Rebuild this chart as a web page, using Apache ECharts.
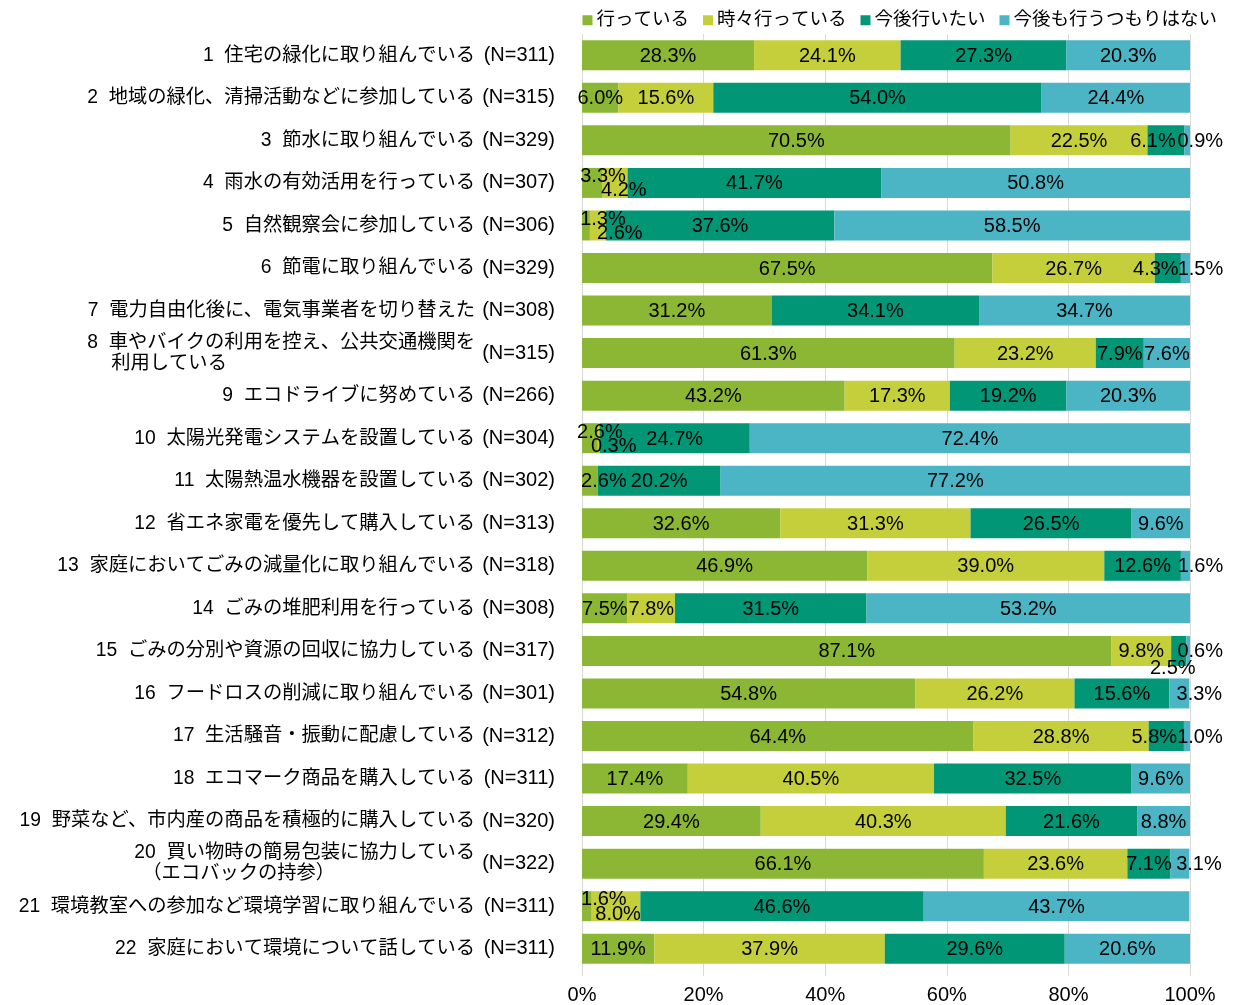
<!DOCTYPE html>
<html>
<head>
<meta charset="utf-8">
<script src="https://cdn.jsdelivr.net/npm/echarts@6/dist/echarts.min.js"></script>
<style>
  html, body { margin: 0; padding: 0; background: #fff; }
  #chart { width: 1234px; height: 1005px; }
</style>
</head>
<body>
<div id="chart"></div>
<script>
// categories (line 2 of a two-line label is kept separately)
const names = [
  '1  住宅の緑化に取り組んでいる',
  '2  地域の緑化、清掃活動などに参加している',
  '3  節水に取り組んでいる',
  '4  雨水の有効活用を行っている',
  '5  自然観察会に参加している',
  '6  節電に取り組んでいる',
  '7  電力自由化後に、電気事業者を切り替えた',
  '8  車やバイクの利用を控え、公共交通機関を',
  '9  エコドライブに努めている',
  '10  太陽光発電システムを設置している',
  '11  太陽熱温水機器を設置している',
  '12  省エネ家電を優先して購入している',
  '13  家庭においてごみの減量化に取り組んでいる',
  '14  ごみの堆肥利用を行っている',
  '15  ごみの分別や資源の回収に協力している',
  '16  フードロスの削減に取り組んでいる',
  '17  生活騒音・振動に配慮している',
  '18  エコマーク商品を購入している',
  '19  野菜など、市内産の商品を積極的に購入している',
  '20  買い物時の簡易包装に協力している',
  '21  環境教室への参加など環境学習に取り組んでいる',
  '22  家庭において環境について話している'
];
const secondLines = { 7: '利用している', 19: '（エコバックの持参）' };
const sampleN = [311, 315, 329, 307, 306, 329, 308, 315, 266, 304, 302,
                 313, 318, 308, 317, 301, 312, 311, 320, 322, 311, 311];

const seriesNames = ['行っている', '時々行っている', '今後行いたい', '今後も行うつもりはない'];
const doing     = [28.3, 6.0, 70.5, 3.3, 1.3, 67.5, 31.2, 61.3, 43.2, 2.6, 2.6, 32.6, 46.9, 7.5, 87.1, 54.8, 64.4, 17.4, 29.4, 66.1, 1.6, 11.9];
const sometimes = [24.1, 15.6, 22.5, 4.2, 2.6, 26.7, 0, 23.2, 17.3, 0.3, 0, 31.3, 39.0, 7.8, 9.8, 26.2, 28.8, 40.5, 40.3, 23.6, 8.0, 37.9];
const future    = [27.3, 54.0, 6.1, 41.7, 37.6, 4.3, 34.1, 7.9, 19.2, 24.7, 20.2, 26.5, 12.6, 31.5, 2.5, 15.6, 5.8, 32.5, 21.6, 7.1, 46.6, 29.6];
const never     = [20.3, 24.4, 0.9, 50.8, 58.5, 1.5, 34.7, 7.6, 20.3, 72.4, 77.2, 9.6, 1.6, 53.2, 0.6, 3.3, 1.0, 9.6, 8.8, 3.1, 43.7, 20.6];
const xTicks = [0, 20, 40, 60, 80, 100];

const colors = ['#8bb734', '#c4cf3b', '#009676', '#4bb5c6'];

// label nudges for small segments: [row, series, dx, dy]
const labelNudges = [
  [2, 2, -13, 0], [2, 3, 13, 0],
  [3, 0, 11, -7], [3, 1, 9, 7],
  [4, 0, 17, -7], [4, 1, 22, 7],
  [5, 2, -12, 0], [5, 3, 15, 0],
  [9, 0, 10, -7], [9, 1, 15, 7],
  [10, 0, 14, 0],
  [12, 3, 15, 0],
  [14, 2, -6, 17], [14, 3, 12, 0],
  [15, 3, 20, 0],
  [16, 2, -12, 0], [16, 3, 13, 0],
  [19, 3, 19, 0],
  [20, 0, 17, -8], [20, 1, 2, 7]
];

const FONT = '"Liberation Sans", "Noto Sans CJK JP", sans-serif';
const values = [doing, sometimes, future, never];

const chart = echarts.init(document.getElementById('chart'), null, { renderer: 'canvas' });

const series = values.map((arr, si) => ({
  name: seriesNames[si],
  type: 'bar',
  stack: 'all',
  barWidth: 30,
  itemStyle: { color: colors[si] },
  label: {
    show: true,
    position: 'inside',
    color: '#000',
    fontSize: 20,
    fontFamily: FONT,
    offset: [0, 1],
    formatter: p => (p.value > 0 ? p.value.toFixed(1) + '%' : '')
  },
  data: arr.map((v, ri) => {
    const nudge = labelNudges.find(n => n[0] === ri && n[1] === si);
    if (!nudge) return v;
    return { value: v, label: { offset: [nudge[2], nudge[3] + 1] } };
  })
}));

chart.setOption({
  animation: false,
  textStyle: { fontFamily: FONT },
  legend: {
    top: 6,
    right: 12,
    itemWidth: 10,
    itemHeight: 10,
    itemGap: 14,
    icon: 'rect',
    textStyle: { fontSize: 18.5, color: '#000', fontFamily: FONT, padding: [0, 0, 0, -1] },
    data: seriesNames
  },
  grid: { left: 582, right: 44, top: 34, bottom: 35 },
  xAxis: {
    type: 'value',
    min: 0,
    max: 100,
    interval: 20,
    axisLine: { show: false },
    axisTick: { show: true, length: 6, lineStyle: { color: '#d9d9d9' } },
    splitLine: { lineStyle: { color: '#d9d9d9', width: 1 } },
    axisLabel: {
      margin: 15,
      fontSize: 20,
      color: '#000',
      fontFamily: FONT,
      formatter: v => (xTicks.includes(v) ? v + '%' : '')
    }
  },
  yAxis: [
    {
      type: 'category',
      inverse: true,
      data: sampleN.map(n => '(N=' + n + ')'),
      axisLine: { show: false },
      axisTick: { show: false },
      axisLabel: { margin: 27, fontSize: 20, color: '#000', fontFamily: FONT }
    },
    {
      type: 'category',
      position: 'left',
      inverse: true,
      offset: 80,
      data: names,
      axisLine: { show: false },
      axisTick: { show: false },
      axisLabel: {
        margin: 27,
        fontSize: 19.3,
        color: '#000',
        fontFamily: FONT,
        formatter: (v, i) => {
          if (!secondLines[i]) return v;
          return '{a|' + v + '}\n{' + (i === 7 ? 'b' : 'c') + '|' + secondLines[i] + '}';
        },
        rich: {
          a: { fontSize: 19.3, lineHeight: 21, color: '#000', fontFamily: FONT },
          b: { fontSize: 19.3, lineHeight: 21, color: '#000', fontFamily: FONT, align: 'left', padding: [0, 0, 0, 24] },
          c: { fontSize: 19.3, lineHeight: 21, color: '#000', fontFamily: FONT, align: 'left', padding: [0, 0, 0, 8] }
        }
      }
    }
  ],
  series: series
});
</script>
</body>
</html>
